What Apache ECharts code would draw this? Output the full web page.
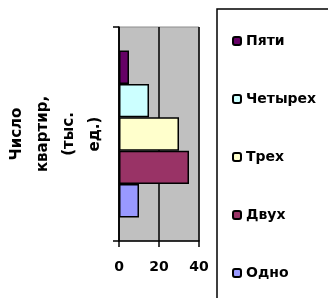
<!DOCTYPE html>
<html lang="ru">
<head>
    <meta charset="UTF-8">
    <title>Число квартир</title>
    <script src="https://cdn.jsdelivr.net/npm/echarts@6/dist/echarts.min.js"></script>
</head>
<style>
    *{
        margin: 0;
        padding: 0;
    }
    html,body{
        width: 100%;
        height: 100%;
        overflow: hidden;
        background: #fff;
    }
    .container{
        width: 328px;
        height: 298px;
    }
</style>
<body>
<div class="container"></div>
<script>
   // данные (сверху вниз)
   let names = ['Пяти', 'Четырех', 'Трех', 'Двух', 'Одно'];
   let values = [5, 15, 30, 35, 10];
   let colors = ['#660066', '#ccffff', '#ffffcc', '#993366', '#9999ff'];
   let xTicks = [0, 20, 40];

   let container = document.querySelector('.container');
   let mycharts = echarts.init(container);
   let font = '"DejaVu Sans", sans-serif';

   let series = [];
   names.forEach((name, i) => {
       series.push({
           name: name,
           type: 'bar',
           data: [values[i]],
           barGap: '0%',
           barCategoryGap: '22%',
           itemStyle: {
               color: colors[i],
               borderColor: '#000',
               borderWidth: 1.5
           }
       });
   });

   let options = {
       animation: false,
       backgroundColor: '#fff',
       grid: {
           left: 119,
           right: 129,
           top: 27,
           bottom: 57,
           show: true,
           backgroundColor: '#c0c0c0',
           borderColor: '#8c8c8c',
           borderWidth: 1
       },
       xAxis: {
           type: 'value',
           min: xTicks[0],
           max: xTicks[xTicks.length - 1],
           interval: 20,
           axisLine: {show: true, lineStyle: {color: '#000', width: 1.5}},
           axisTick: {show: true, length: 6, lineStyle: {color: '#000', width: 1.5}},
           splitLine: {show: true, lineStyle: {color: '#000', width: 1.5}},
           axisLabel: {
               margin: 19,
               color: '#000',
               fontFamily: font,
               fontWeight: 'bold',
               fontSize: 14
           }
       },
       yAxis: {
           type: 'category',
           data: [''],
           axisLine: {show: true, lineStyle: {color: '#000', width: 1.5}},
           axisTick: {show: true, length: 6, lineStyle: {color: '#000', width: 1.5}},
           axisLabel: {show: false},
           splitLine: {show: false}
       },
       legend: {
           orient: 'vertical',
           left: 227,
           top: 29,
           itemWidth: 8,
           itemHeight: 8,
           itemGap: 44,
           data: names,
           textStyle: {
               color: '#000',
               fontFamily: font,
               fontWeight: 'bold',
               fontSize: 14,
               padding: [0, 0, 0, 0]
           }
       },
       graphic: [
           {
               type: 'rect',
               shape: {x: 217, y: 9, width: 130, height: 310},
               style: {fill: 'none', stroke: '#000', lineWidth: 1.5}
           },
           {
               type: 'text',
               x: 56,
               y: 134,
               rotation: Math.PI / 2,
               style: {
                   text: 'Число\nквартир,\n(тыс.\nед.)',
                   align: 'center',
                   verticalAlign: 'middle',
                   lineHeight: 26,
                   fill: '#000',
                   font: 'bold 15px ' + font
               }
           }
       ],
       series
   };

   mycharts.setOption(options);
</script>
</body>
</html>
